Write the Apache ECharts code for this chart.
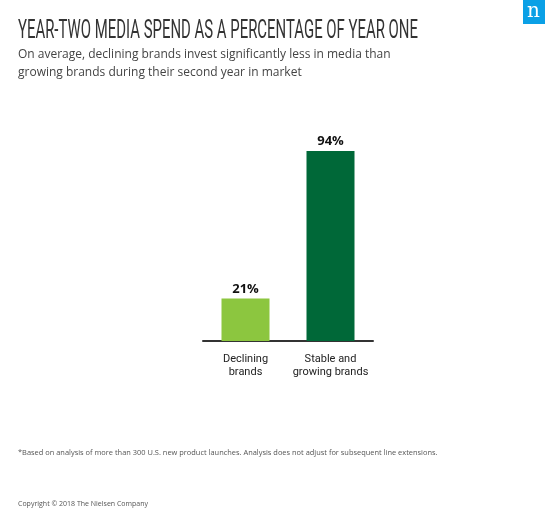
<!DOCTYPE html>
<html><head><meta charset="utf-8">
<script src="https://cdn.jsdelivr.net/npm/echarts@6/dist/echarts.min.js"></script>
<style>html,body{margin:0;padding:0;background:#fff}#c{width:558px;height:521px}</style>
</head><body><div id="c"></div>
<script>
const categories = ['Declining\nbrands', 'Stable and\ngrowing brands'];
const values = [21, 94];
const barColors = ['#8cc63f', '#006838'];
const titleText = 'YEAR-TWO MEDIA SPEND AS A PERCENTAGE OF YEAR ONE';
const subtitleText = 'On average, declining brands invest significantly less in media than\ngrowing brands during their second year in market';
const footnoteText = '*Based on analysis of more than 300 U.S. new product launches. Analysis does not adjust for subsequent line extensions.';
const copyrightText = 'Copyright © 2018 The Nielsen Company';

// fit the condensed title to its width in the reference
const titleFont = '25px Roboto';
const cv = document.createElement('canvas').getContext('2d');
cv.font = titleFont;
const titleScale = 400 / cv.measureText(titleText).width;

const chart = echarts.init(document.getElementById('c'), null, {renderer: 'canvas'});
chart.setOption({
  animation: false,
  backgroundColor: '#fff',
  grid: {left: 203, right: 185, top: 139, bottom: 180},
  xAxis: {
    type: 'category', data: categories,
    axisLine: {lineStyle: {color: '#333', width: 2}},
    axisTick: {show: false},
    axisLabel: {interval: 0, color: '#222', fontFamily: 'Roboto', fontSize: 11, lineHeight: 13, margin: 12}
  },
  yAxis: {type: 'value', min: 0, max: 100, show: false, splitLine: {show: false}},
  series: [{
    type: 'bar', barWidth: 48,
    data: values.map((v, i) => ({value: v, itemStyle: {color: barColors[i]}})),
    label: {show: true, position: 'top', formatter: '{c}%', color: '#111', fontFamily: 'Open Sans', fontWeight: 'bold', fontSize: 13, distance: 3}
  }],
  graphic: [
    {type: 'text', x: 18, y: 19, scaleX: titleScale, style: {text: titleText, font: titleFont, fill: '#333'}},
    {type: 'text', left: 18, top: 46, style: {text: subtitleText, fontFamily: 'Open Sans', fontSize: 12, lineHeight: 17.5, fill: '#444'}},
    {type: 'rect', shape: {x: 523, y: 0, width: 22, height: 24}, style: {fill: '#0aa0e6'}},
    {type: 'text', left: 527, top: 2, style: {text: 'n', fontFamily: 'DejaVu Serif', fontSize: 20, fill: '#fff'}},
    {type: 'text', left: 18, top: 449, style: {text: footnoteText, fontFamily: 'Open Sans', fontSize: 7.45, fill: '#555'}},
    {type: 'text', left: 18, top: 500, style: {text: copyrightText, fontFamily: 'Open Sans', fontSize: 7, fill: '#555'}}
  ]
});
</script></body></html>
